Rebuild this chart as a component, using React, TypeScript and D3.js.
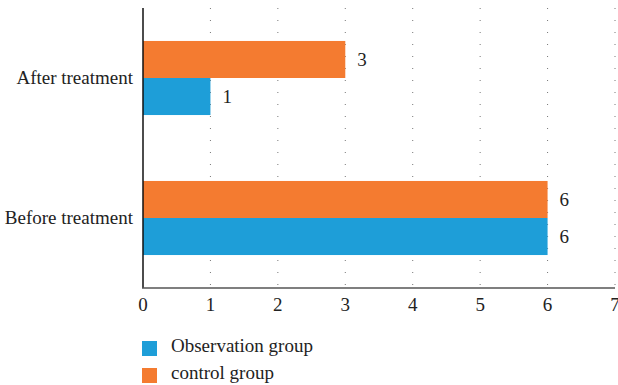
import React from "react";
import * as d3 from "d3";

const categories = ["After treatment", "Before treatment"];
const seriesNames = ["control group", "Observation group"];
const controlValues = [3, 6];
const observationValues = [1, 6];
const xTicks = [0, 1, 2, 3, 4, 5, 6, 7];

const W = 618;
const H = 385;
const margin = { left: 143, right: 3, top: 8, bottom: 97 };
const ORANGE = "#F47B30";
const BLUE = "#1E9ED8";
const FONT = "'Liberation Serif', 'Times New Roman', serif";
const FS = 19;

export default function App() {
  const x = d3.scaleLinear().domain([0, 7]).range([margin.left, W - margin.right]);
  const y = d3
    .scaleBand<string>()
    .domain(categories)
    .range([margin.top, H - margin.bottom])
    .paddingInner(0)
    .paddingOuter(0);
  const inner = d3
    .scaleBand<string>()
    .domain(seriesNames)
    .range([0, y.bandwidth()])
    .paddingInner(0)
    .paddingOuter(0.89);

  const series = [
    { name: "control group", values: controlValues, color: ORANGE },
    { name: "Observation group", values: observationValues, color: BLUE },
  ];
  const y0 = margin.top;
  const y1 = H - margin.bottom;
  const textStyle = { fontFamily: FONT, fontSize: FS, fill: "#222" };

  return (
    <svg
      width={W}
      height={H}
      style={{ position: "absolute", left: 0, top: 0, background: "#fff" }}
    >
      {/* dotted vertical gridlines */}
      {xTicks.slice(1).map((t) => (
        <line
          key={"g" + t}
          x1={x(t)}
          x2={x(t)}
          y1={y0}
          y2={y1}
          stroke="#777"
          strokeWidth={1}
          strokeDasharray="1,11"
        />
      ))}
      {/* bars */}
      {categories.map((c, i) =>
        series.map((s) => (
          <rect
            key={c + s.name}
            x={x(0)}
            y={(y(c) ?? 0) + (inner(s.name) ?? 0)}
            width={x(s.values[i]) - x(0)}
            height={inner.bandwidth()}
            fill={s.color}
          />
        ))
      )}
      {/* value labels */}
      {categories.map((c, i) =>
        series.map((s) => (
          <text
            key={"v" + c + s.name}
            x={x(s.values[i]) + 12}
            y={(y(c) ?? 0) + (inner(s.name) ?? 0) + inner.bandwidth() / 2}
            dy="0.33em"
            style={textStyle}
          >
            {s.values[i]}
          </text>
        ))
      )}
      {/* axes */}
      <line x1={x(0)} x2={x(0)} y1={y0} y2={y1} stroke="#111" strokeWidth={1.5} />
      <line x1={x(0) - 1} x2={x(7)} y1={y1} y2={y1} stroke="#555" strokeWidth={1.5} />
      {xTicks.map((t) => (
        <text
          key={"t" + t}
          x={x(t)}
          y={y1 + 23}
          textAnchor="middle"
          style={textStyle}
        >
          {t}
        </text>
      ))}
      {categories.map((c) => (
        <text
          key={"c" + c}
          x={x(0) - 10}
          y={(y(c) ?? 0) + y.bandwidth() / 2}
          dy="0.32em"
          textAnchor="end"
          style={textStyle}
        >
          {c}
        </text>
      ))}
      {/* legend */}
      {[
        { name: "Observation group", color: BLUE },
        { name: "control group", color: ORANGE },
      ].map((l, i) => (
        <g key={"l" + l.name} transform={`translate(142, ${341 + i * 27})`}>
          <rect width={15} height={15} fill={l.color} />
          <text x={29} y={11} style={textStyle}>
            {l.name}
          </text>
        </g>
      ))}
    </svg>
  );
}
